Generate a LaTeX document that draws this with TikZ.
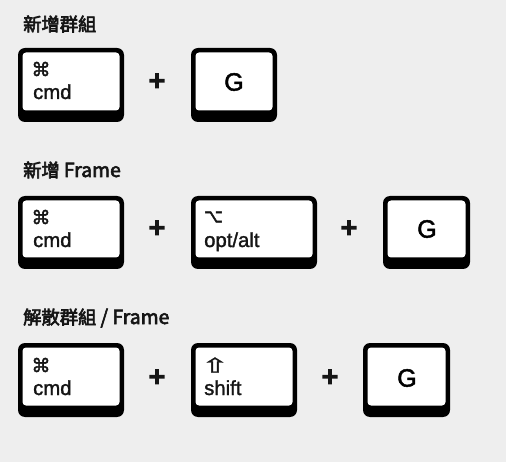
\documentclass[tikz,border=0pt]{standalone}
\usepackage{fontspec}
\usepackage{graphicx}
\setmainfont{Liberation Sans}
\newfontfamily\cjk{Noto Sans CJK TC}
\newfontfamily\sym{DejaVu Sans}
\newcommand{\heavy}[2]{\special{pdf:code q 2 Tr #1 w}#2\special{pdf:code Q}}
\newcommand{\lat}[1]{{\fontsize{19.4}{20}\selectfont #1}}
\definecolor{bgc}{HTML}{EEEEEE}
\definecolor{inkc}{HTML}{151515}
\newcommand{\keycap}[5]{% name, x0, x1, top, bottom
  \node[outerkey,minimum width={(#3-#2)*1pt},minimum height={(#5-#4)*1pt}] (#1) at ({(#2+#3)/2},{(#4+#5)/2}) {};
  \node[innerkey,minimum width={(#3-#2-9)*1pt},minimum height={(#5-#4-16)*1pt}] (#1in) at ({(#2+#3)/2},{(#4+#5-7)/2}) {};
}
\tikzset{
  outerkey/.style={fill=black,rounded corners=7pt,inner sep=0,outer sep=0},
  innerkey/.style={fill=white,rounded corners=3.5pt,inner sep=0,outer sep=0},
  keytxt/.style={text=inkc,anchor=base west,inner sep=0,font=\fontsize{20.3}{22}\selectfont},
  keysym/.style={text=inkc,anchor=center,inner sep=0,font=\sym\fontsize{19}{22}\selectfont},
  bigtxt/.style={text=black,anchor=center,inner sep=0,font=\fontsize{25}{28}\selectfont},
  plussign/.style={text=inkc,anchor=center,inner sep=0,font=\fontsize{28}{30}\selectfont},
  headtxt/.style={text=inkc,anchor=base west,inner sep=0,font=\cjk\fontsize{18.3}{20}\selectfont},
}
\begin{document}
\begin{tikzpicture}[x=1pt,y=-1pt]
\fill[bgc] (0,0) rectangle (506,462);
\useasboundingbox (0,0) rectangle (506,462);
% row 1
\node[headtxt] (h1) at (23,31) {\heavy{0.6}{新增群組}};
\keycap{a}{18}{124}{48}{122}
\keycap{b}{191}{277}{48}{122}
\node[keysym] (a1) at (41,69) {\heavy{0.4}{⌘}};
\node[keytxt] (a2) at (33,99) {\heavy{0.3}{cmd}};
\node[plussign] (p1) at (157,82) {\heavy{1.6}{+}};
\node[bigtxt] (g1) at (234,82) {\heavy{0.5}{G}};
% row 2
\node[headtxt] (h2) at (23,177) {\heavy{0.6}{新增 \lat{Frame}}};
\keycap{c}{18}{124}{196}{269}
\keycap{d}{191}{317}{196}{269}
\keycap{e}{383}{470}{196}{269}
\node[keysym] (c1) at (41,217) {\heavy{0.4}{⌘}};
\node[keytxt] (c2) at (33,247) {\heavy{0.3}{cmd}};
\node[plussign] (p2) at (157,229) {\heavy{1.6}{+}};
\node[keysym] (d1) at (213.5,217) {\scalebox{0.85}[1]{\heavy{0.5}{⌥}}};
\node[keytxt] (d2) at (204,247) {\heavy{0.3}{opt/alt}};
\node[plussign] (p3) at (349,229) {\heavy{1.6}{+}};
\node[bigtxt] (g2) at (427,229) {\heavy{0.5}{G}};
% row 3
\node[headtxt] (h3) at (23,324) {\heavy{0.6}{解散群組 \lat{/ Frame}}};
\keycap{f}{18}{124}{343}{417}
\keycap{k}{191}{297}{343}{417}
\keycap{l}{363}{450}{343}{417}
\node[keysym] (f1) at (41,365) {\heavy{0.4}{⌘}};
\node[keytxt] (f2) at (33,395) {\heavy{0.3}{cmd}};
\node[plussign] (p4) at (157,378) {\heavy{1.6}{+}};
\node[keysym] (k1) at (215,365) {\scalebox{1.7}[1.05]{\heavy{0.3}{⇧}}};
\node[keytxt] (k2) at (204,395) {\heavy{0.3}{shift}};
\node[plussign] (p5) at (330,378) {\heavy{1.6}{+}};
\node[bigtxt] (g3) at (407,378) {\heavy{0.5}{G}};
\end{tikzpicture}
\end{document}
